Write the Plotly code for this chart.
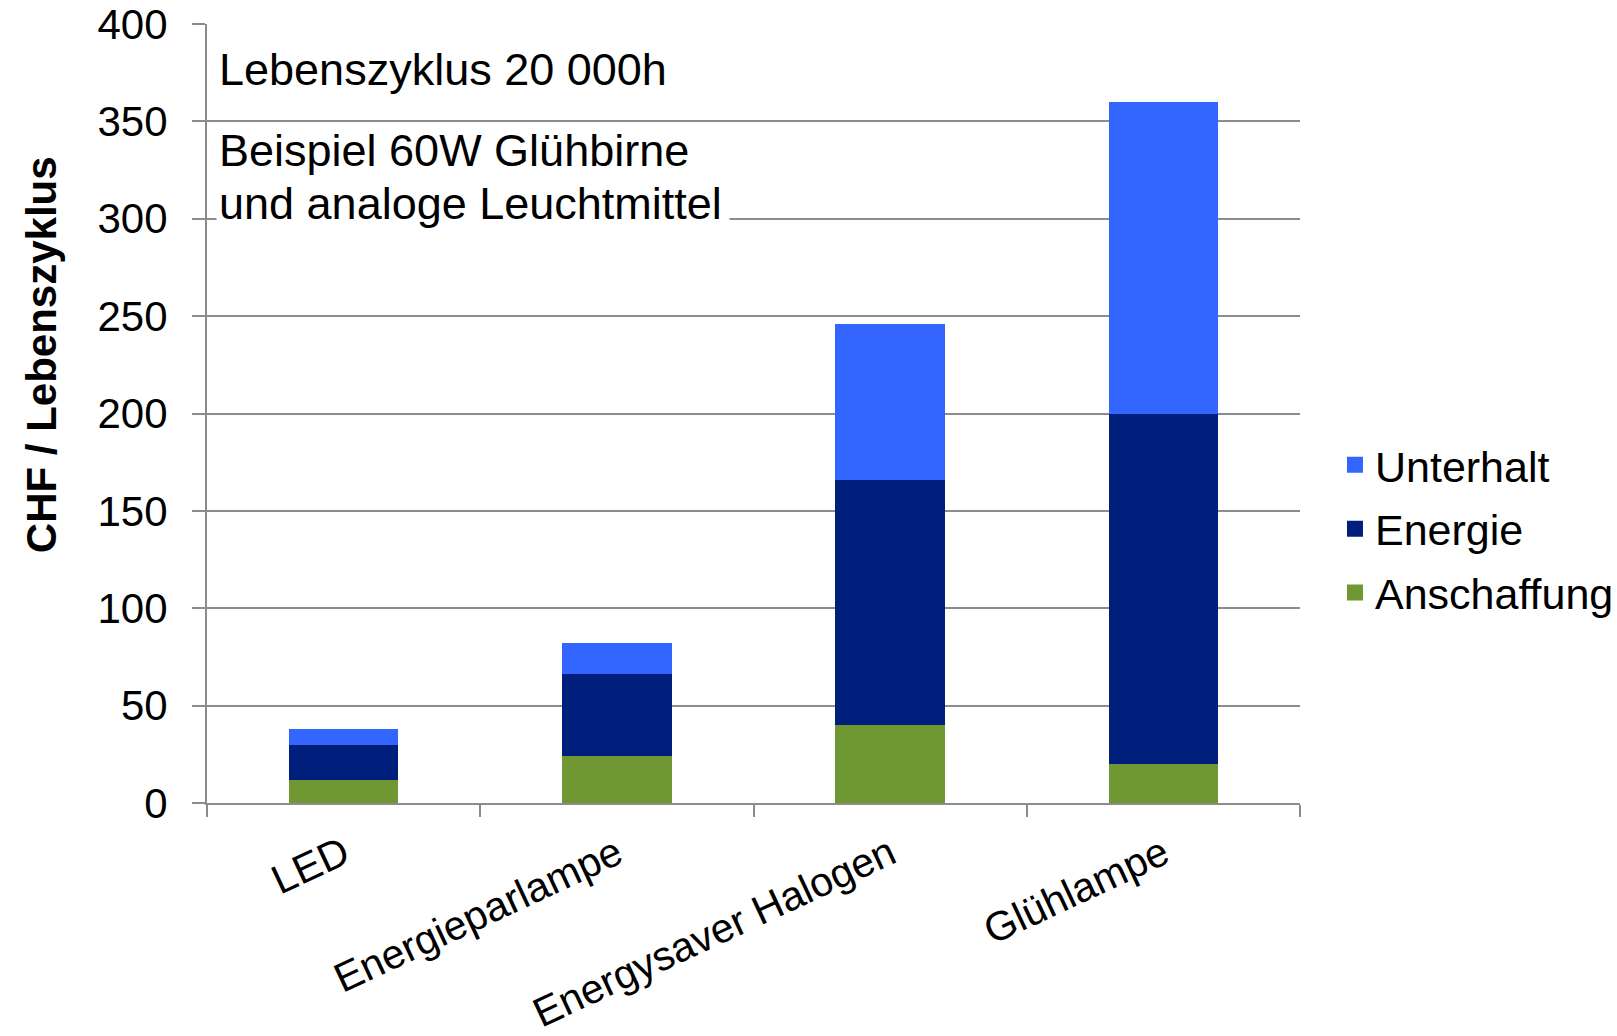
import plotly.graph_objects as go

# Lifecycle cost per lamp type (CHF over 20 000 h)
lampen = ["LED", "Energieparlampe", "Energysaver Halogen", "Glühlampe"]
anschaffung = [12, 24, 40, 20]
energie = [18, 42, 126, 180]
unterhalt = [8, 16, 80, 160]

serien = ["Anschaffung", "Energie", "Unterhalt"]
farben = {"Anschaffung": "#6F9732", "Energie": "#001F7C", "Unterhalt": "#3366FF"}
werte = {"Anschaffung": anschaffung, "Energie": energie, "Unterhalt": unterhalt}

y_ticks = [0, 50, 100, 150, 200, 250, 300, 350, 400]

FONT = "Liberation Sans, Arial, sans-serif"
GRAU = "#8C8C8C"

fig = go.Figure()

for name in serien:
    fig.add_trace(go.Bar(
        x=lampen, y=werte[name], name=name,
        marker=dict(color=farben[name], line=dict(width=0)),
        showlegend=False,
    ))

# legend entries with larger square swatches, listed top-down
for name in reversed(serien):
    fig.add_trace(go.Scatter(
        x=[None], y=[None], mode="markers", name=name,
        marker=dict(symbol="square", size=16, color=farben[name]),
        legendgroup=name, showlegend=True,
    ))

text_box_width = 508

fig.update_layout(
    width=1617, height=1036,
    margin=dict(l=207, r=317, t=24, b=233, autoexpand=False),
    paper_bgcolor="white", plot_bgcolor="white",
    barmode="stack", bargap=0.6,
    font=dict(family=FONT, color="black", size=40),
    legend=dict(
        x=1.032, y=0.352, xanchor="left", yanchor="middle",
        font=dict(family=FONT, size=43, color="black"),
        traceorder="grouped", tracegroupgap=5,
        bgcolor="rgba(0,0,0,0)",
    ),
    xaxis=dict(
        type="category", range=[-0.5, 3.5],
        showgrid=False, showline=True, linecolor=GRAU, linewidth=2,
        ticks="outside", ticklen=12, tickwidth=2, tickcolor=GRAU,
        tickson="boundaries", tickangle=-25,
        tickfont=dict(family=FONT, size=41, color="black"),
        ticklabelstandoff=9,
    ),
    yaxis=dict(
        range=[0, 400], tickvals=y_ticks, ticktext=[str(v) for v in y_ticks],
        showgrid=True, gridcolor=GRAU, gridwidth=2,
        showline=True, linecolor=GRAU, linewidth=2,
        ticks="outside", ticklen=13, tickwidth=2, tickcolor=GRAU,
        tickfont=dict(family=FONT, size=42, color="black"),
        ticklabelstandoff=16, zeroline=False,
    ),
    annotations=[
        dict(
            text="<b>CHF / Lebenszyklus</b>", textangle=-90,
            xref="paper", yref="paper", x=-0.152, y=0.576,
            xanchor="center", yanchor="middle", showarrow=False,
            font=dict(family=FONT, size=42, color="black"),
        ),
        dict(
            text="Lebenszyklus 20 000h",
            xref="paper", yref="paper", x=0.008, y=0.942,
            xanchor="left", yanchor="middle", showarrow=False,
            font=dict(family=FONT, size=45, color="black"),
            bgcolor="white", borderpad=2,
        ),
        dict(
            text="Beispiel 60W Glühbirne",
            xref="paper", yref="paper", x=0.008, y=0.8375,
            xanchor="left", yanchor="middle", align="left", showarrow=False,
            width=text_box_width,
            font=dict(family=FONT, size=45, color="black"),
            bgcolor="white", borderpad=2,
        ),
        dict(
            text="und analoge Leuchtmittel",
            xref="paper", yref="paper", x=0.008, y=0.769,
            xanchor="left", yanchor="middle", align="left", showarrow=False,
            width=text_box_width,
            font=dict(family=FONT, size=45, color="black"),
            bgcolor="white", borderpad=2,
        ),
    ],
)

fig.write_html("out.html")
